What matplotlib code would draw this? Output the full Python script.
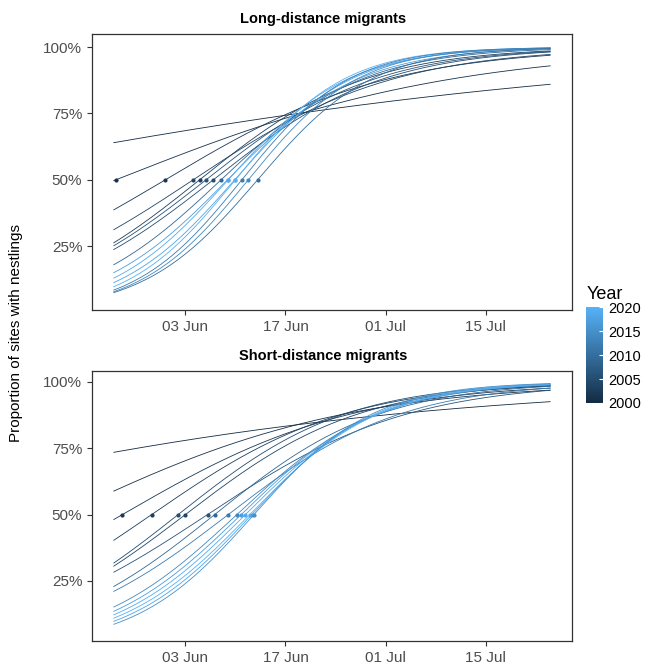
import numpy as np
import matplotlib.pyplot as plt
import matplotlib.dates as mdates
from matplotlib.colors import LinearSegmentedColormap, Normalize
from matplotlib.ticker import PercentFormatter
import datetime as dt

plt.rcParams['font.family'] = ['Liberation Sans', 'DejaVu Sans']

# fitted logistic curves per year: day of year at 50% and slope per day
long_years = [2000, 2001, 2002, 2004, 2003, 2006, 2005, 2009, 2017, 2019, 2018, 2020, 2012, 2014, 2010]
long_mid = [115.7, 144.3, 151.2, 155.1, 156.0, 156.9, 157.9, 159.0, 159.9, 160.0, 160.9, 161.0, 161.9, 162.8, 164.1]
long_slope = [0.0203, 0.0424, 0.064, 0.0712, 0.086, 0.0845, 0.084, 0.101, 0.109, 0.119, 0.122, 0.131, 0.133, 0.131, 0.125]

short_years = [2000, 2001, 2002, 2003, 2005, 2004, 2006, 2009, 2012, 2014, 2017, 2019, 2020, 2018, 2015]
short_mid = [102.5, 136.9, 145.2, 149.3, 153.0, 154.0, 157.1, 158.1, 160.0, 161.2, 161.8, 162.4, 163.0, 163.3, 163.6]
short_slope = [0.0245, 0.0503, 0.062, 0.074, 0.085, 0.082, 0.071, 0.086, 0.0825, 0.1, 0.104, 0.107, 0.11, 0.115, 0.12]

first_day = 144
last_day = 205

cmap = LinearSegmentedColormap.from_list('gg', ['#132B43', '#56B1F7'])
norm = Normalize(2000, 2020)


def doy_to_date(d):
    return mdates.date2num(dt.datetime(2021, 1, 1)) + np.asarray(d) - 1


def logistic(day, mid, slope):
    return 1 / (1 + np.exp(-slope * (day - mid)))


def panel(ax, years, mids, slopes, title, ylim):
    days = np.linspace(first_day, last_day, 200)
    for yr, m, s in zip(years, mids, slopes):
        col = cmap(norm(yr))
        ax.plot(doy_to_date(days), logistic(days, m, s), color=col, lw=0.6)
        if first_day <= m <= last_day:
            ax.plot(doy_to_date(m), logistic(m, m, s), 'o', color=col, ms=3, mec='none')
    span = last_day - first_day
    ax.set_xlim(doy_to_date(first_day - 0.05 * span), doy_to_date(last_day + 0.05 * span))
    ax.set_ylim(*ylim)
    ax.set_yticks([0.25, 0.5, 0.75, 1.0])
    ax.yaxis.set_major_formatter(PercentFormatter(1.0, decimals=0))
    ticks = [doy_to_date(d) for d in (154, 168, 182, 196)]
    ax.set_xticks(ticks)
    ax.xaxis.set_major_formatter(mdates.DateFormatter('%d %b'))
    ax.tick_params(colors='#333333', labelcolor='#4D4D4D', labelsize=11, length=3.5, width=0.8)
    for sp in ax.spines.values():
        sp.set_color('#333333')
        sp.set_linewidth(0.9)
    ax.set_title(title, fontsize=10.5, fontweight='bold', pad=8, x=0.481)


fig = plt.figure(figsize=(6.5, 6.67), dpi=100)
ax1 = fig.add_axes([0.1415, 0.535, 0.7385, 0.414])
ax2 = fig.add_axes([0.1415, 0.039, 0.7385, 0.405])

panel(ax1, long_years, long_mid, long_slope, 'Long-distance migrants', (0.009, 1.049))
panel(ax2, short_years, short_mid, short_slope, 'Short-distance migrants', (0.024, 1.041))

fig.text(0.024, 0.5, 'Proportion of sites with nestlings', rotation=90, va='center', ha='center', fontsize=11)

cax = fig.add_axes([0.902, 0.396, 0.026, 0.143])
sm = plt.cm.ScalarMappable(norm=norm, cmap=cmap)
cb = fig.colorbar(sm, cax=cax, ticks=[2000, 2005, 2010, 2015, 2020])
cb.outline.set_visible(False)
cb.ax.tick_params(color='white', direction='in', length=3, labelsize=10.5, labelcolor='black')
cb.ax.set_title('Year', fontsize=13, loc='left', pad=6)

fig.savefig('out.png', dpi=100)
